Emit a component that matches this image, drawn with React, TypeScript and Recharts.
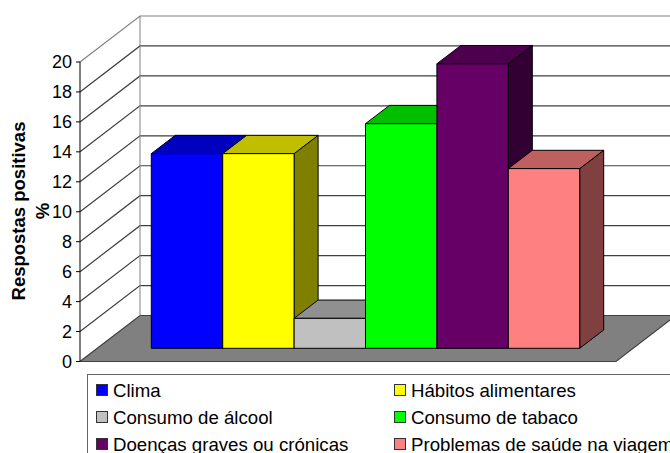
import React from "react";
import {
  BarChart,
  Bar,
  XAxis,
  YAxis,
  CartesianGrid,
  Legend,
} from "recharts";

const seriesNames = [
  "Clima",
  "Hábitos alimentares",
  "Consumo de álcool",
  "Consumo de tabaco",
  "Doenças graves ou crónicas",
  "Problemas de saúde na viagem",
];
const seriesValues = [13, 13, 2, 15, 19, 12];
const seriesColors = ["#0000ff", "#ffff00", "#c0c0c0", "#00ff00", "#660066", "#ff8080"];
const yTicks = [0, 2, 4, 6, 8, 10, 12, 14, 16, 18, 20];
const categories = [""];

const tableRow: Record<string, string | number> = { category: categories[0] };
seriesNames.forEach((name, i) => {
  tableRow[name] = seriesValues[i];
});
const data = [tableRow];

const FONT = "'Liberation Sans', Arial, sans-serif";

// depth of the whole box, and of the bars inside it
const WALL_DX = 60;
const WALL_DY = 46;
const BAR_DX = 24;
const BAR_DY = 18.3;
// bars stand a little behind the front edge of the floor
const BAR_SHIFT_X = 17.3;
const BAR_SHIFT_Y = 13.2;

function shade(hex: string, k: number) {
  const n = parseInt(hex.slice(1), 16);
  const c = (v: number) => Math.round(v * k);
  return `rgb(${c((n >> 16) & 255)},${c((n >> 8) & 255)},${c(n & 255)})`;
}

function BoxBar(props: any) {
  const { x, y, width, height, fill } = props;
  const left = x + BAR_SHIFT_X;
  const top = y - BAR_SHIFT_Y;
  const right = left + width;
  const bottom = top + height;
  return (
    <g stroke="#000" strokeWidth={1} strokeLinejoin="round">
      <polygon
        points={`${right},${top} ${right + BAR_DX},${top - BAR_DY} ${right + BAR_DX},${bottom - BAR_DY} ${right},${bottom}`}
        fill={shade(fill, 0.5)}
      />
      <polygon
        points={`${left},${top} ${left + BAR_DX},${top - BAR_DY} ${right + BAR_DX},${top - BAR_DY} ${right},${top}`}
        fill={shade(fill, 0.75)}
      />
      <rect x={left} y={top} width={width} height={height} fill={fill} />
    </g>
  );
}

// grid line: runs up the side wall then along the back wall
function WallLine(props: any) {
  const { x1, x2, y1, index } = props;
  const bx = x1 + WALL_DX;
  const by = y1 - WALL_DY;
  const isFloor = y1 > 350;
  const isTop = y1 < 70;
  return (
    <g key={index}>
      {isFloor && (
        <polygon
          points={`${x1},${y1} ${x2},${y1} ${x2 + WALL_DX},${by} ${bx},${by}`}
          fill="#808080"
          stroke="#404040"
          strokeWidth={1.2}
        />
      )}
      {isTop && (
        <line x1={bx} y1={by} x2={bx} y2={by + 299.5} stroke="#808080" strokeWidth={1} />
      )}
      {!isFloor && (
        <polyline
          points={`${x1},${y1} ${bx},${by} ${x2 + WALL_DX},${by}`}
          fill="none"
          stroke={isTop ? "#808080" : "#404040"}
          strokeWidth={1.2}
        />
      )}
    </g>
  );
}

function YTitle() {
  return (
    <g fontFamily={FONT} fontWeight="bold" fontSize={18.5} fill="#000" textAnchor="middle">
      <text transform="translate(25,211) rotate(-90)">Respostas positivas</text>
      <text transform="translate(49,211) rotate(-90)">%</text>
    </g>
  );
}

function LegendBox({ payload }: any) {
  return (
    <div
      style={{
        display: "grid",
        gridTemplateColumns: "298px 320px",
        gridAutoRows: 26.8,
        alignContent: "start",
        boxSizing: "border-box",
        width: 640,
        height: 100,
        paddingLeft: 8,
        paddingTop: 2,
        border: "1px solid #666",
        background: "#fff",
        fontFamily: FONT,
        fontSize: 18.67,
        lineHeight: "27px",
        color: "#000",
      }}
    >
      {payload.map((item: any) => (
        <div key={item.value} style={{ display: "flex", alignItems: "center", height: 26.8, whiteSpace: "nowrap" }}>
          <span
            style={{
              width: 12,
              height: 12,
              boxSizing: "border-box",
              border: "1px solid #333",
              background: item.color,
              marginRight: 5,
            }}
          />
          {item.value}
        </div>
      ))}
    </div>
  );
}

export default function App() {
  return (
    <div style={{ position: "absolute", left: 0, top: 0, width: 670, height: 453, overflow: "hidden" }}>
      <BarChart
        width={670}
        height={453}
        data={data}
        margin={{ top: 62, right: 54, bottom: 91.5, left: 0 }}
        barSize={71.4}
        barGap={0}
      >
        <CartesianGrid vertical={false} horizontal={WallLine as any} />
        <XAxis dataKey="category" hide />
        <YAxis
          width={80}
          domain={[0, 20]}
          ticks={yTicks}
          interval={0}
          tickSize={4}
          tickMargin={4}
          stroke="#000"
          tick={{ fontFamily: FONT, fontSize: 18, fill: "#000" }}
          label={<YTitle />}
        />
        <Legend
          layout="horizontal"
          verticalAlign="middle"
          itemSorter={null}
          content={LegendBox as any}
          wrapperStyle={{ position: "absolute", left: 87, top: 374, width: 640, height: 100, margin: 0 }}
        />
        {seriesNames.map((name, i) => (
          <Bar
            key={name}
            dataKey={name}
            name={name}
            fill={seriesColors[i]}
            shape={<BoxBar />}
            isAnimationActive={false}
          />
        ))}
      </BarChart>
    </div>
  );
}
